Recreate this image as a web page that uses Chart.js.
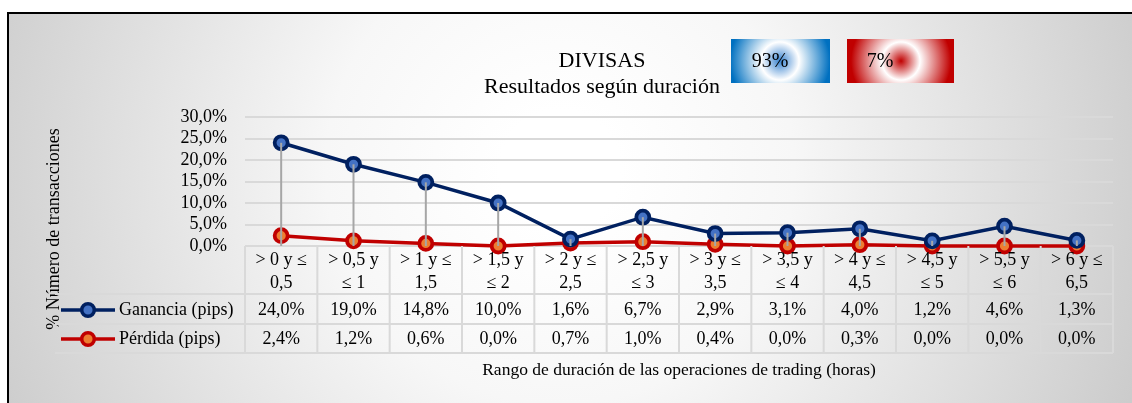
<!DOCTYPE html>
<html lang="es">
<head>
<meta charset="utf-8">
<title>DIVISAS - Resultados según duración</title>
<script src="https://cdn.jsdelivr.net/npm/chart.js@4/dist/chart.umd.min.js"></script>
<style>
    html, body { margin: 0; padding: 0; background: #ffffff; }
    #chart { display: block; }
</style>
</head>
<body>
<canvas id="chart" width="1132" height="403"></canvas>
<script>
// Datos
const categorias = [
    ['> 0 y ≤', '0,5'], ['> 0,5 y', '≤ 1'], ['> 1 y ≤', '1,5'], ['> 1,5 y', '≤ 2'],
    ['> 2 y ≤', '2,5'], ['> 2,5 y', '≤ 3'], ['> 3 y ≤', '3,5'], ['> 3,5 y', '≤ 4'],
    ['> 4 y ≤', '4,5'], ['> 4,5 y', '≤ 5'], ['> 5,5 y', '≤ 6'], ['> 6 y ≤', '6,5']
];
const ganancia = [24.0, 19.0, 14.8, 10.0, 1.6, 6.7, 2.9, 3.1, 4.0, 1.2, 4.6, 1.3];
const perdida = [2.4, 1.2, 0.6, 0.0, 0.7, 1.0, 0.4, 0.0, 0.3, 0.0, 0.0, 0.0];
const nombresSeries = ['Ganancia (pips)', 'Pérdida (pips)'];
const ticksY = [0, 5, 10, 15, 20, 25, 30];
const resumenPorcentajes = ['93%', '7%'];

const FUENTE = '"Liberation Serif", "Times New Roman", serif';

function formatoPct(v) {
    return v.toFixed(1).replace('.', ',') + '%';
}

// fondo degradado, marco y cuadros de resumen
const fondoPlugin = {
    id: 'fondo',
    beforeDraw(chart) {
        const ctx = chart.ctx;
        const w = chart.width, h = chart.height;
        ctx.save();
        const g = ctx.createRadialGradient(560, 170, 60, 560, 170, 640);
        g.addColorStop(0, '#ffffff');
        g.addColorStop(0.3, '#f7f7f7');
        g.addColorStop(1, '#c9c9c9');
        ctx.fillStyle = g;
        ctx.fillRect(0, 0, w, h);
        ctx.fillStyle = '#ffffff';
        ctx.fillRect(0, 0, w, 12);
        ctx.fillRect(0, 0, 7, h);
        ctx.strokeStyle = '#000000';
        ctx.lineWidth = 2;
        ctx.beginPath();
        ctx.moveTo(8, h);
        ctx.lineTo(8, 13);
        ctx.lineTo(w, 13);
        ctx.stroke();

        // título
        ctx.fillStyle = '#000000';
        ctx.textAlign = 'center';
        ctx.textBaseline = 'middle';
        ctx.font = '22px ' + FUENTE;
        ctx.fillText('DIVISAS', 602, 61);
        ctx.fillText('Resultados según duración', 602, 87);

        // cuadros 93% / 7%
        const cajas = [
            { x: 731, y: 39, w: 99, h: 44, cx: 780, centro: '#3a84d0', borde: '#0070c0', texto: resumenPorcentajes[0], tx: 770 },
            { x: 847, y: 39, w: 107, h: 44, cx: 901, centro: '#c00000', borde: '#c00000', texto: resumenPorcentajes[1], tx: 880 }
        ];
        cajas.forEach(c => {
            const rg = ctx.createRadialGradient(c.cx, 61, 0, c.cx, 61, 50);
            rg.addColorStop(0, c.centro);
            rg.addColorStop(0.38, '#ffffff');
            rg.addColorStop(1, c.borde);
            ctx.fillStyle = rg;
            ctx.fillRect(c.x, c.y, c.w, c.h);
            ctx.fillStyle = '#000000';
            ctx.font = '20px ' + FUENTE;
            ctx.fillText(c.texto, c.tx, 62);
        });

        // título eje Y
        ctx.save();
        ctx.translate(54, 229);
        ctx.rotate(-Math.PI / 2);
        ctx.font = '18px ' + FUENTE;
        ctx.fillText('% Número de transacciones', 0, 0);
        ctx.restore();
        ctx.restore();
    },
    afterDatasetsDraw(chart) {
        // líneas de proyección
        const ctx = chart.ctx;
        const meta = chart.getDatasetMeta(0);
        const base = chart.chartArea.bottom;
        ctx.save();
        ctx.strokeStyle = '#a6a6a6';
        ctx.lineWidth = 2;
        meta.data.forEach(p => {
            ctx.beginPath();
            ctx.moveTo(p.x, p.y);
            ctx.lineTo(p.x, base);
            ctx.stroke();
        });
        ctx.restore();
    },
    afterDraw(chart) {
        // tabla de datos
        const ctx = chart.ctx;
        const area = chart.chartArea;
        const ancho = (area.right - area.left) / categorias.length;
        const yTop = area.bottom;
        const filas = [yTop, 294, 324, 353];
        ctx.save();
        ctx.strokeStyle = '#d9d9d9';
        ctx.lineWidth = 2;
        ctx.beginPath();
        for (let k = 1; k < filas.length; k++) {
            ctx.moveTo(55, filas[k]);
            ctx.lineTo(area.right, filas[k]);
        }
        for (let i = 0; i <= categorias.length; i++) {
            const x = area.left + i * ancho;
            ctx.moveTo(x, filas[0]);
            ctx.lineTo(x, filas[3]);
        }
        ctx.stroke();

        ctx.fillStyle = '#000000';
        ctx.textAlign = 'center';
        ctx.textBaseline = 'middle';
        ctx.font = '18px ' + FUENTE;
        categorias.forEach((lineas, i) => {
            const cx = chart.scales.x.getPixelForValue(i);
            ctx.fillText(lineas[0], cx, 260);
            ctx.fillText(lineas[1], cx, 283);
            ctx.fillText(formatoPct(ganancia[i]), cx, 310);
            ctx.fillText(formatoPct(perdida[i]), cx, 339);
        });

        // leyenda dentro de la tabla
        const filasLeyenda = [310, 339];
        chart.data.datasets.forEach((ds, k) => {
            const y = filasLeyenda[k];
            ctx.strokeStyle = ds.borderColor;
            ctx.lineWidth = 3.5;
            ctx.beginPath();
            ctx.moveTo(61, y);
            ctx.lineTo(115, y);
            ctx.stroke();
            ctx.beginPath();
            ctx.arc(88, y, 6.3, 0, Math.PI * 2);
            ctx.fillStyle = ds.pointBackgroundColor;
            ctx.fill();
            ctx.lineWidth = 3.5;
            ctx.strokeStyle = ds.pointBorderColor;
            ctx.stroke();
            ctx.fillStyle = '#000000';
            ctx.textAlign = 'left';
            ctx.fillText(ds.label, 119, y);
        });

        // título eje X
        ctx.textAlign = 'center';
        ctx.font = '17.5px ' + FUENTE;
        ctx.fillText('Rango de duración de las operaciones de trading (horas)', 679, 370);
        ctx.restore();
    }
};

const ctx = document.getElementById('chart').getContext('2d');
new Chart(ctx, {
    type: 'line',
    data: {
        labels: categorias,
        datasets: [
            {
                label: nombresSeries[0],
                data: ganancia,
                borderColor: '#002060',
                borderWidth: 3.5,
                pointRadius: 6.5,
                pointBorderWidth: 3.8,
                pointBackgroundColor: '#4472c4',
                pointBorderColor: '#002060',
                tension: 0,
                clip: false
            },
            {
                label: nombresSeries[1],
                data: perdida,
                borderColor: '#c00000',
                borderWidth: 3.5,
                pointRadius: 6.5,
                pointBorderWidth: 3.8,
                pointBackgroundColor: '#ed7d31',
                pointBorderColor: '#c00000',
                tension: 0,
                clip: false
            }
        ]
    },
    options: {
        responsive: false,
        animation: false,
        layout: { padding: { left: 0, right: 19, top: 117, bottom: 157 } },
        plugins: {
            legend: { display: false },
            tooltip: { enabled: false }
        },
        scales: {
            x: {
                display: false,
                offset: true
            },
            y: {
                min: ticksY[0],
                max: ticksY[ticksY.length - 1],
                afterFit: (scale) => { scale.width = 245; },
                afterBuildTicks: (scale) => { scale.ticks = ticksY.map(v => ({ value: v })); },
                border: { display: false },
                grid: { color: '#d9d9d9', lineWidth: 2, drawTicks: false },
                ticks: {
                    autoSkip: false,
                    padding: 18,
                    color: '#000000',
                    font: { family: FUENTE, size: 18 },
                    callback: (v) => formatoPct(v)
                }
            }
        }
    },
    plugins: [fondoPlugin]
});
</script>
</body>
</html>
